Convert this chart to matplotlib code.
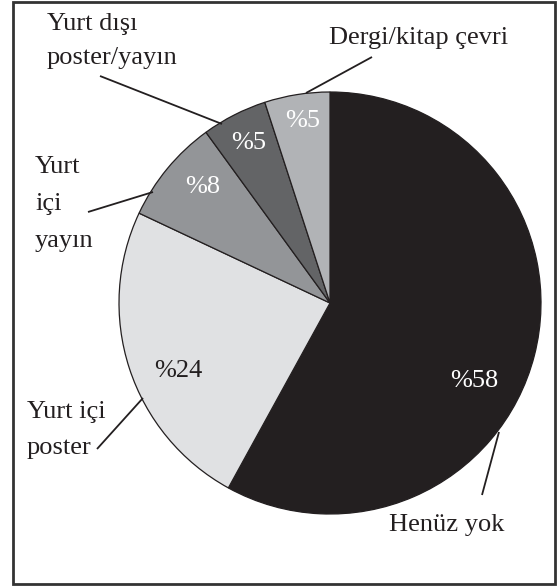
import matplotlib
matplotlib.use("Agg")
import matplotlib.pyplot as plt
from matplotlib.patches import Rectangle

# ---- data ----
categories = ["Henüz yok", "Yurt içi poster", "Yurt içi yayın",
              "Yurt dışı poster/yayın", "Dergi/kitap çevri"]
values = [58, 24, 8, 5, 5]
pct_labels = ["%58", "%24", "%8", "%5", "%5"]
outer_labels = ["Henüz yok", "Yurt içi\nposter", "Yurt\niçi\nyayın",
                "Yurt dışı\nposter/yayın", "Dergi/kitap çevri"]

# ---- style ----
colors = ["#231f20", "#e0e1e3", "#939598", "#636466", "#b1b3b6"]
pct_colors = ["white", "#231f20", "white", "white", "white"]
FONT = "Liberation Serif"
FS = 19

W, H = 558, 588
fig = plt.figure(figsize=(W / 100, H / 100), dpi=100)
ax = fig.add_axes([0, 0, 1, 1])

def Y(y):
    return H - y

cx, cy, R = 330, Y(303), 211
ax.pie(values, colors=colors, startangle=90, counterclock=False,
       center=(cx, cy), radius=R, frame=True,
       wedgeprops=dict(edgecolor="#231f20", linewidth=0.9))
ax.set_xlim(0, W)
ax.set_ylim(0, H)
ax.set_aspect("equal")
ax.axis("off")

# frame
ax.add_patch(Rectangle((13, Y(584)), 542, 582, fill=False,
                       edgecolor="#333333", linewidth=2.0))

# percentage labels
pct_pos = [(474, 381), (178, 371), (203, 187), (249, 143), (303, 121)]
for t, c, (x, y) in zip(pct_labels, pct_colors, pct_pos):
    ax.text(x, Y(y), t, color=c, fontsize=FS, family=FONT,
            ha="center", va="center")

# outer labels
lab_pos = [(447, 525, "center"), (27, 430, "left"), (35, 204, "left"),
           (47, 41, "left"), (419, 38, "center")]
line_sp = [1.0, 1.8, 1.88, 1.65, 1.0]
for t, (x, y, ha), ls in zip(outer_labels, lab_pos, line_sp):
    ax.text(x, Y(y), t, color="#231f20", fontsize=FS, family=FONT,
            ha=ha, va="center", linespacing=ls)

# leader lines
leaders = [((482, 495), (499, 432)),
           ((97, 449), (143, 398)),
           ((88, 212), (153, 192)),
           ((100, 76), (222, 124)),
           ((372, 57), (306, 93))]
for (x0, y0), (x1, y1) in leaders:
    ax.plot([x0, x1], [Y(y0), Y(y1)], color="#231f20", linewidth=1.3,
            solid_capstyle="butt")

fig.savefig("out.png", dpi=100)
